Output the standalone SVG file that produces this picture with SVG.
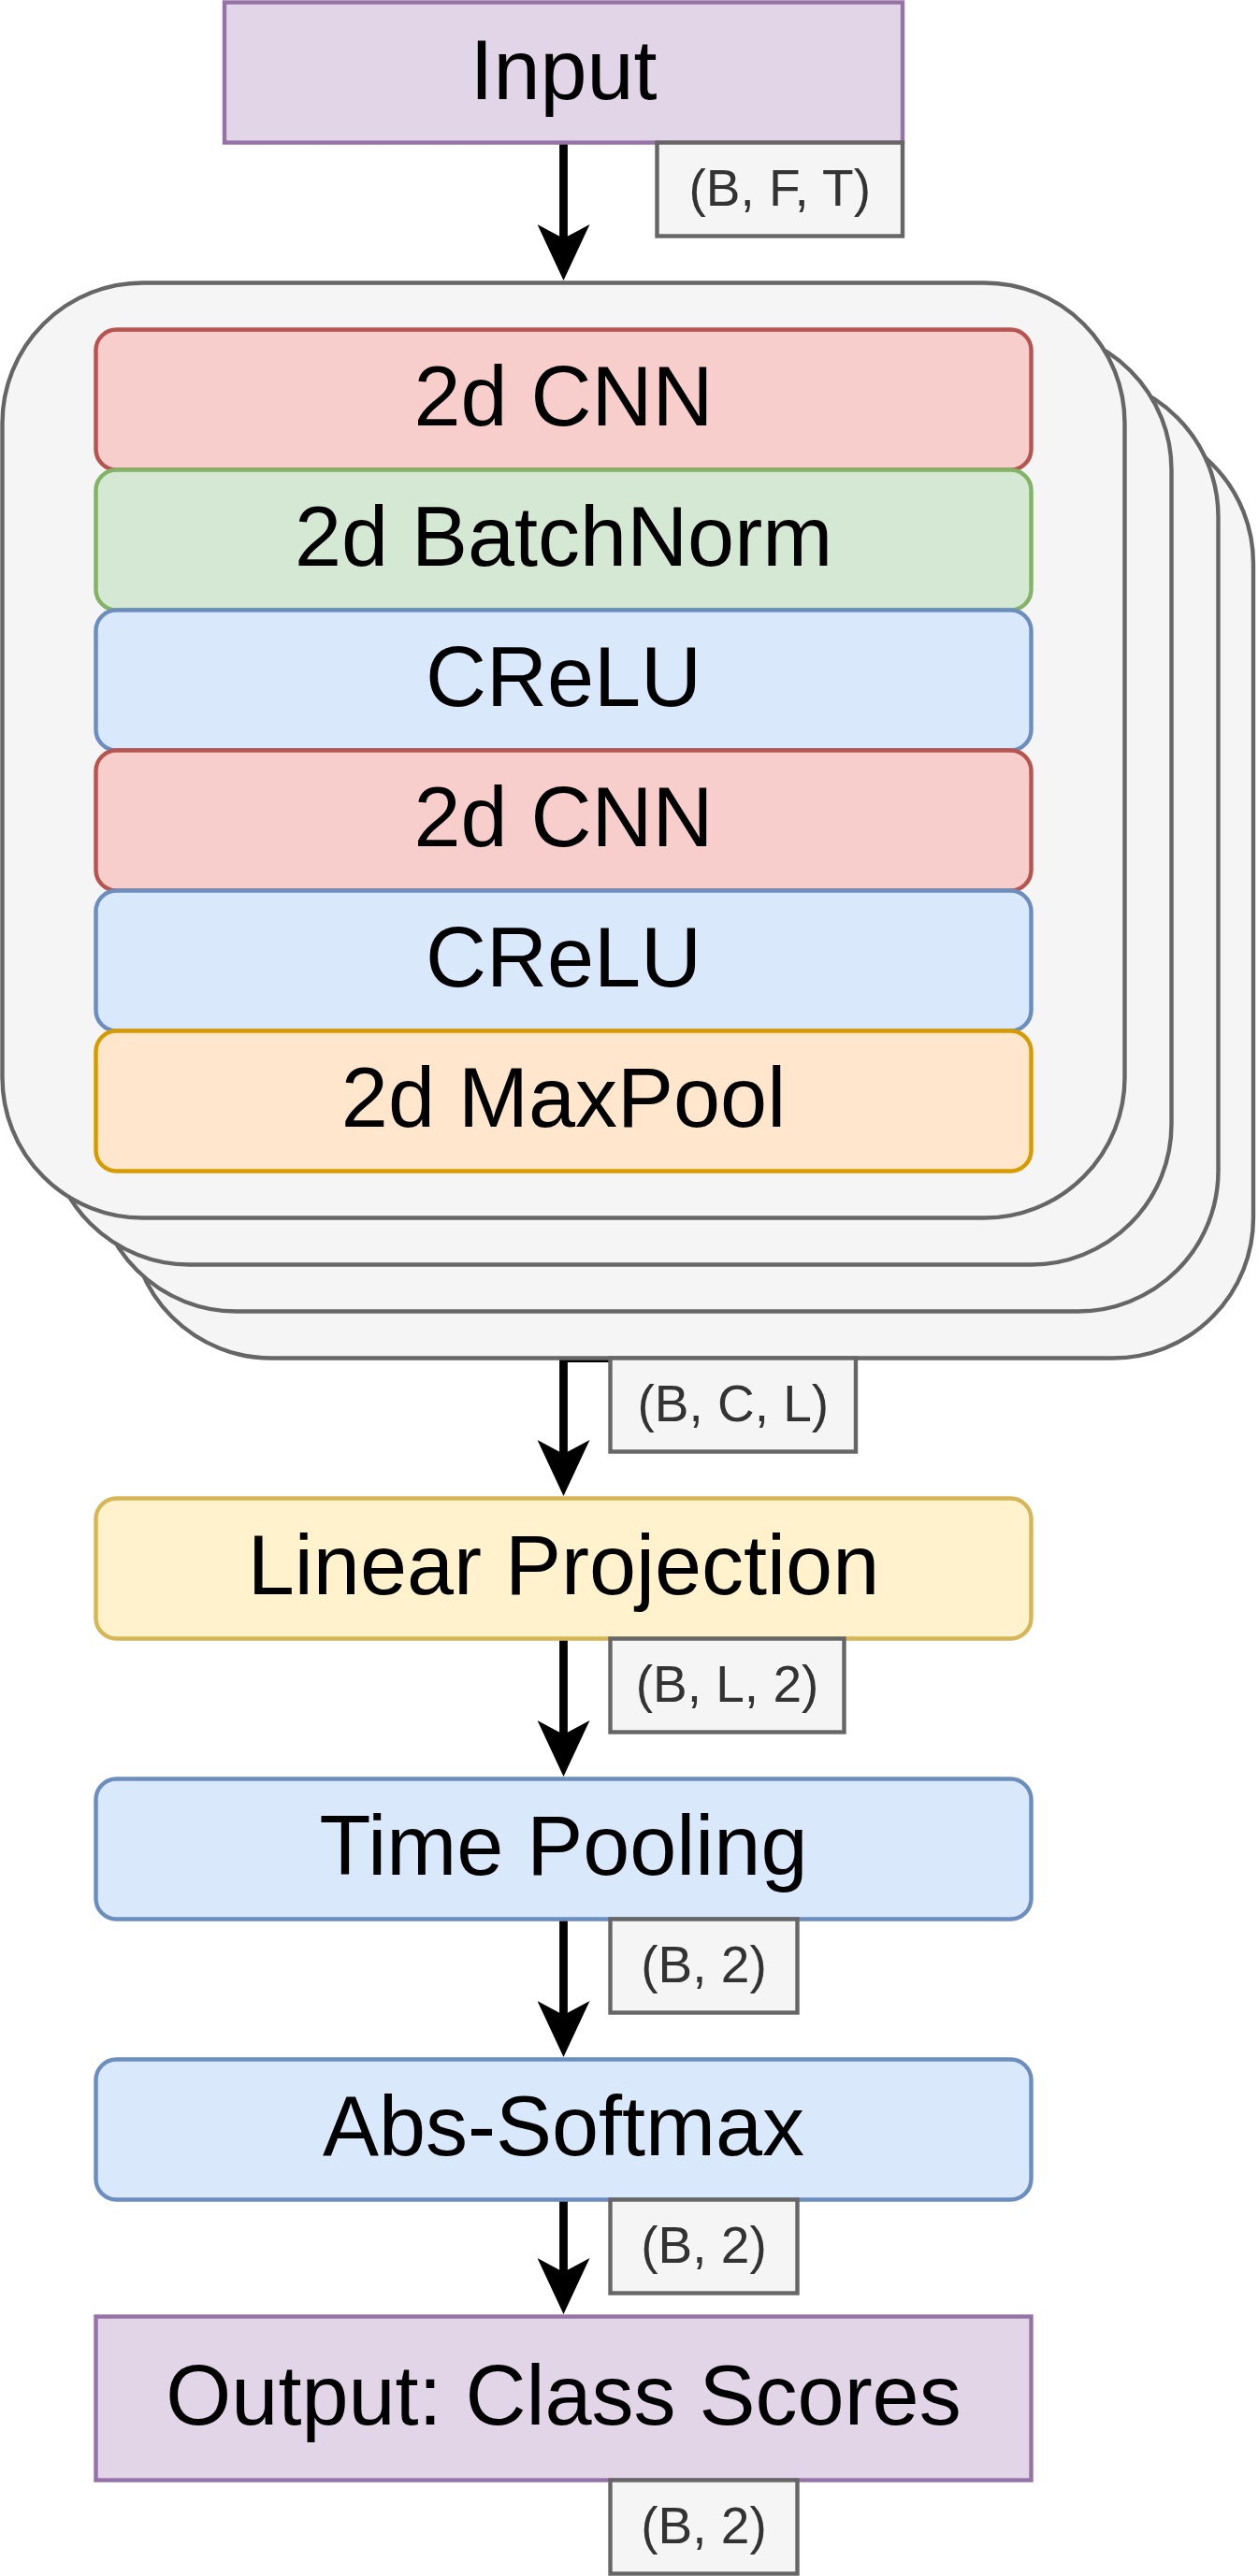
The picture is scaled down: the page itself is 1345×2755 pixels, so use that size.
<svg xmlns="http://www.w3.org/2000/svg" width="1345" height="2755" viewBox="0 0 1345 2755">
<defs>
<style>
.t{font-family:"Liberation Sans",Arial,Helvetica,sans-serif;font-size:90px;fill:#000;text-anchor:middle}
.l{font-family:"Liberation Sans",Arial,Helvetica,sans-serif;font-size:55px;fill:#333333;text-anchor:middle}
.lb{fill:#f5f5f5;stroke:#666666;stroke-width:4.4}
.st{fill:#f5f5f5;stroke:#666666;stroke-width:4.4}
.red{fill:#f8cecc;stroke:#b85450;stroke-width:4.4}
.grn{fill:#d5e8d4;stroke:#82b366;stroke-width:4.4}
.blu{fill:#dae8fc;stroke:#6c8ebf;stroke-width:4.4}
.org{fill:#ffe6cc;stroke:#d79b00;stroke-width:4.4}
.yel{fill:#fff2cc;stroke:#d6b656;stroke-width:4.4}
.pur{fill:#e1d5e7;stroke:#9673a6;stroke-width:4.4}
.e{fill:none;stroke:#000;stroke-width:8.8;stroke-linejoin:miter}
</style>
<marker id="arr" markerUnits="userSpaceOnUse" markerWidth="60" markerHeight="56" viewBox="0 0 60 56" refX="15" refY="28" orient="auto">
<path d="M0,0 L60,28 L0,56 L15,28 Z" fill="#000"/>
</marker>
</defs>
<g id="connectors">
<path class="e" d="M602.5 152.5 V255" marker-end="url(#arr)"/>
<path class="e" d="M670 1452.5 H602.5 V1555" marker-end="url(#arr)"/>
<path class="e" d="M602.5 1752.5 V1855" marker-end="url(#arr)"/>
<path class="e" d="M602.5 2052.5 V2155" marker-end="url(#arr)"/>
<path class="e" d="M602.5 2352.5 V2430" marker-end="url(#arr)"/>
</g>
<g id="input">
<rect class="pur" x="240" y="2.5" width="725" height="150"/>
<text class="t" x="602.5" y="106">Input</text>
</g>
<g id="label-bft">
<rect class="lb" x="702.5" y="152.5" width="262.5" height="100"/>
<text class="l" x="833.75" y="220">(B, F, T)</text>
</g>
<g id="stack">
<rect class="st" x="140" y="452.5" width="1200" height="1000" rx="150" ry="150"/>
<rect class="st" x="102.5" y="402.5" width="1200" height="1000" rx="150" ry="150"/>
<rect class="st" x="52.5" y="352.5" width="1200" height="1000" rx="150" ry="150"/>
<rect class="st" x="2.5" y="302.5" width="1200" height="1000" rx="150" ry="150"/>
</g>
<g id="cnn1">
<rect class="red" x="102.5" y="352.5" width="1000" height="150" rx="22"/>
<text class="t" x="602.5" y="455">2d CNN</text>
</g>
<g id="batchnorm">
<rect class="grn" x="102.5" y="502.5" width="1000" height="150" rx="22"/>
<text class="t" x="602.5" y="605">2d BatchNorm</text>
</g>
<g id="crelu1">
<rect class="blu" x="102.5" y="652.5" width="1000" height="150" rx="22"/>
<text class="t" x="602.5" y="755">CReLU</text>
</g>
<g id="cnn2">
<rect class="red" x="102.5" y="802.5" width="1000" height="150" rx="22"/>
<text class="t" x="602.5" y="905">2d CNN</text>
</g>
<g id="crelu2">
<rect class="blu" x="102.5" y="952.5" width="1000" height="150" rx="22"/>
<text class="t" x="602.5" y="1055">CReLU</text>
</g>
<g id="maxpool">
<rect class="org" x="102.5" y="1102.5" width="1000" height="150" rx="22"/>
<text class="t" x="602.5" y="1205">2d MaxPool</text>
</g>
<g id="label-bcl">
<rect class="lb" x="652.5" y="1452.5" width="262.5" height="100"/>
<text class="l" x="783.75" y="1520">(B, C, L)</text>
</g>
<g id="linear">
<rect class="yel" x="102.5" y="1602.5" width="1000" height="150" rx="22"/>
<text class="t" x="602.5" y="1705">Linear Projection</text>
</g>
<g id="label-bl2">
<rect class="lb" x="652.5" y="1752.5" width="250" height="100"/>
<text class="l" x="777.5" y="1820">(B, L, 2)</text>
</g>
<g id="timepool">
<rect class="blu" x="102.5" y="1902.5" width="1000" height="150" rx="22"/>
<text class="t" x="602.5" y="2005">Time Pooling</text>
</g>
<g id="label-b2-1">
<rect class="lb" x="652.5" y="2052.5" width="200" height="100"/>
<text class="l" x="752.5" y="2120">(B, 2)</text>
</g>
<g id="abssoftmax">
<rect class="blu" x="102.5" y="2202.5" width="1000" height="150" rx="22"/>
<text class="t" x="602.5" y="2305">Abs-Softmax</text>
</g>
<g id="label-b2-2">
<rect class="lb" x="652.5" y="2352.5" width="200" height="100"/>
<text class="l" x="752.5" y="2420">(B, 2)</text>
</g>
<g id="output">
<rect class="pur" x="102.5" y="2477.5" width="1000" height="175"/>
<text class="t" x="602.5" y="2592.5">Output: Class Scores</text>
</g>
<g id="label-b2-3">
<rect class="lb" x="652.5" y="2652.5" width="200" height="100"/>
<text class="l" x="752.5" y="2720">(B, 2)</text>
</g>
</svg>
